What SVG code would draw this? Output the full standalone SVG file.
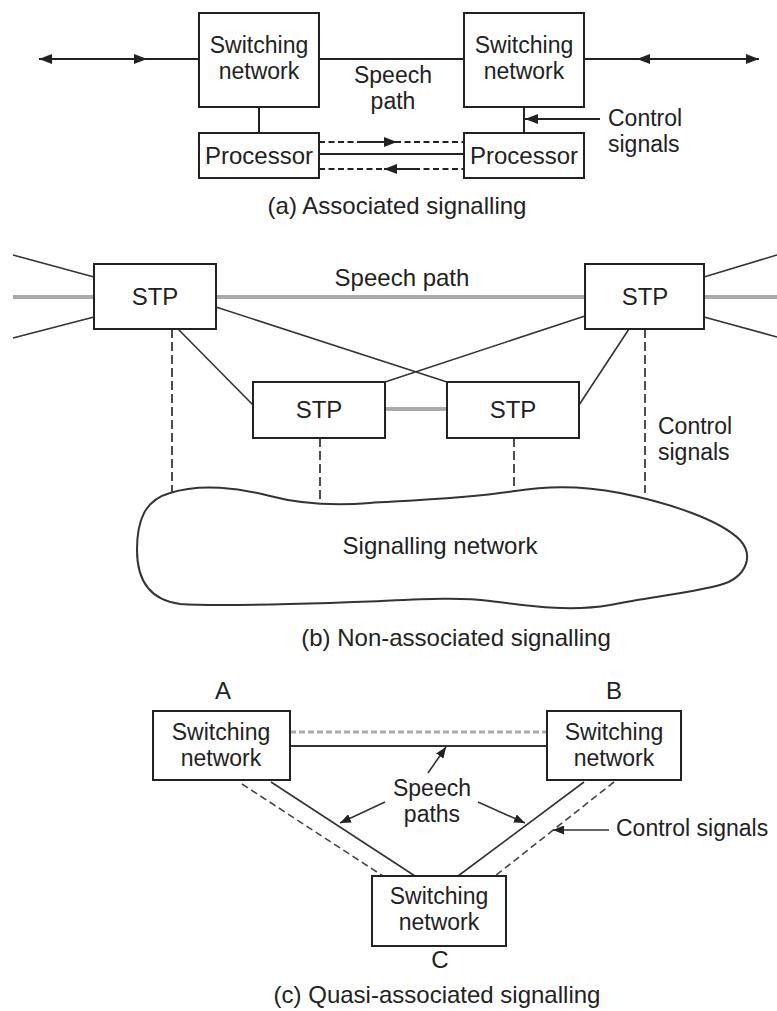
<svg xmlns="http://www.w3.org/2000/svg" width="777" height="1011" viewBox="0 0 777 1011">
<defs>
<style>
.box{fill:#fff;stroke:#222;stroke-width:2}
.t{font-family:"Liberation Sans",Arial,sans-serif;font-size:24px;fill:#222;text-anchor:middle}
.t2{font-family:"Liberation Sans",Arial,sans-serif;font-size:23px;fill:#222;text-anchor:middle}
.tl{font-family:"Liberation Sans",Arial,sans-serif;font-size:23px;fill:#222;text-anchor:start}
.ln{stroke:#222;stroke-width:2;fill:none}
.thin{stroke:#333;stroke-width:1.6;fill:none}
.dash{stroke:#222;stroke-width:2;fill:none;stroke-dasharray:6 3.5}
.vdash{stroke:#222;stroke-width:1.6;fill:none;stroke-dasharray:9 4}
.gdash{stroke:#444;stroke-width:1.6;fill:none;stroke-dasharray:7 4}
.gray{stroke:#aaa;stroke-width:4;fill:none}
.gray3{stroke:#aaa;stroke-width:3;fill:none;stroke-dasharray:6 3}
</style>
<marker id="ah" viewBox="0 0 13 10" refX="13" refY="5" markerWidth="13" markerHeight="10" markerUnits="userSpaceOnUse" orient="auto">
<path d="M0,0 L13,5 L0,10 z" fill="#222"/>
</marker>
<marker id="ah2" viewBox="0 0 11 9" refX="11" refY="4.5" markerWidth="11" markerHeight="9" markerUnits="userSpaceOnUse" orient="auto">
<path d="M0,0 L11,4.5 L0,9 z" fill="#222"/>
</marker>
</defs>
<rect width="777" height="1011" fill="#fff"/>

<!-- connectors -->
<g id="connectors">
<!-- (a) -->
<path class="ln" d="M199,59 H39" marker-end="url(#ah)"/>
<path class="ln" d="M100,59 H147" marker-end="url(#ah)"/>
<path class="ln" d="M319,59 H464"/>
<path class="ln" d="M584,59 H759" marker-end="url(#ah)"/>
<path class="ln" d="M700,59 H637" marker-end="url(#ah)"/>
<path class="ln" d="M259,107 V133"/>
<path class="ln" d="M524,107 V133"/>
<path class="ln" d="M600,119 H525" marker-end="url(#ah)"/>
<path class="dash" d="M319,142 H464"/>
<path class="ln" d="M360,142 H397" marker-end="url(#ah)"/>
<path class="ln" d="M319,154 H464"/>
<path class="dash" d="M319,169 H464"/>
<path class="ln" d="M420,169 H384" marker-end="url(#ah)"/>
<!-- (b) -->
<path class="gray" d="M13,297 H94 M216,297 H585 M704,297 H777"/>
<path class="gray" d="M385,409 H447"/>
<path class="thin" d="M13,255 L94,277 M13,338 L94,317 M704,277 L777,255 M704,317 L777,337"/>
<path class="thin" d="M178,329 L253,405 M216,307 L447,382 M585,316 L385,382 M629,329 L579,405"/>
<path class="vdash" d="M172,329 V493 M320,438 V504 M514,438 V492 M645,329 V493"/>
<!-- (c) -->
<path class="gray3" d="M290,732 H547"/>
<path class="ln" d="M290,746 H547" style="stroke:#333"/>
<path class="thin" d="M271,782 L415,876 M584,782 L458,876"/>
<path class="gdash" d="M242,784 L383,876 M614,782 L495,876"/>
<path class="thin" d="M428,773 L446,747" marker-end="url(#ah2)"/>
<path class="thin" d="M385,802 L340,823" marker-end="url(#ah2)"/>
<path class="thin" d="M478,802 L525,823" marker-end="url(#ah2)"/>
<path class="thin" d="M609,830 L553,830" marker-end="url(#ah2)"/>
</g>

<!-- (a) nodes -->
<g id="a-sw-left"><rect class="box" x="199" y="13" width="120" height="94"/><text class="t2" x="259" y="53">Switching</text><text class="t2" x="259" y="79">network</text></g>
<g id="a-sw-right"><rect class="box" x="464" y="13" width="120" height="94"/><text class="t2" x="524" y="53">Switching</text><text class="t2" x="524" y="79">network</text></g>
<g id="a-proc-left"><rect class="box" x="199" y="133" width="120" height="45"/><text class="t" x="259" y="164">Processor</text></g>
<g id="a-proc-right"><rect class="box" x="464" y="133" width="120" height="45"/><text class="t" x="524" y="164">Processor</text></g>
<g id="a-labels">
<text class="t2" x="393" y="83">Speech</text><text class="t2" x="393" y="109">path</text>
<text class="tl" x="608" y="126">Control</text><text class="tl" x="608" y="152">signals</text>
<text class="t" x="397" y="214">(a) Associated signalling</text>
</g>

<!-- (b) nodes -->
<g id="b-stp-tl"><rect class="box" x="94" y="264" width="122" height="65"/><text class="t" x="155" y="305">STP</text></g>
<g id="b-stp-tr"><rect class="box" x="585" y="264" width="119" height="65"/><text class="t" x="645" y="305">STP</text></g>
<g id="b-stp-ml"><rect class="box" x="253" y="382" width="132" height="56"/><text class="t" x="319" y="418">STP</text></g>
<g id="b-stp-mr"><rect class="box" x="447" y="382" width="132" height="56"/><text class="t" x="513" y="418">STP</text></g>
<g id="b-cloud">
<path d="M170,493 C200,483 240,488 270,496 C300,504 330,506 370,503 C420,500 470,498 515,491 C545,486 580,485 620,493 C670,503 720,520 740,540 C755,557 745,578 720,585 C690,593 650,597 610,605 C570,612 530,606 490,601 C450,596 400,601 330,603 C260,605 210,606 180,604 C150,600 137,580 137,550 C137,520 145,500 170,493 Z" fill="#fff" stroke="#333" stroke-width="2"/>
<text class="t" x="440" y="554">Signalling network</text>
</g>
<g id="b-labels">
<text class="t" x="402" y="286">Speech path</text>
<text class="tl" x="658" y="434">Control</text><text class="tl" x="658" y="460">signals</text>
<text class="t" x="456" y="646">(b) Non-associated signalling</text>
</g>

<!-- (c) nodes -->
<g id="c-sw-a"><rect class="box" x="153" y="711" width="137" height="69"/><text class="t2" x="221" y="740">Switching</text><text class="t2" x="221" y="766">network</text></g>
<g id="c-sw-b"><rect class="box" x="547" y="711" width="134" height="69"/><text class="t2" x="614" y="740">Switching</text><text class="t2" x="614" y="766">network</text></g>
<g id="c-sw-c"><rect class="box" x="372" y="876" width="134" height="70"/><text class="t2" x="439" y="904">Switching</text><text class="t2" x="439" y="930">network</text></g>
<g id="c-labels">
<text class="t" x="223" y="699">A</text>
<text class="t" x="614" y="699">B</text>
<text class="t" x="440" y="968">C</text>
<text class="t2" x="432" y="796">Speech</text><text class="t2" x="432" y="822">paths</text>
<text class="tl" x="616" y="836">Control signals</text>
<text class="t" x="437" y="1003">(c) Quasi-associated signalling</text>
</g>
</svg>
